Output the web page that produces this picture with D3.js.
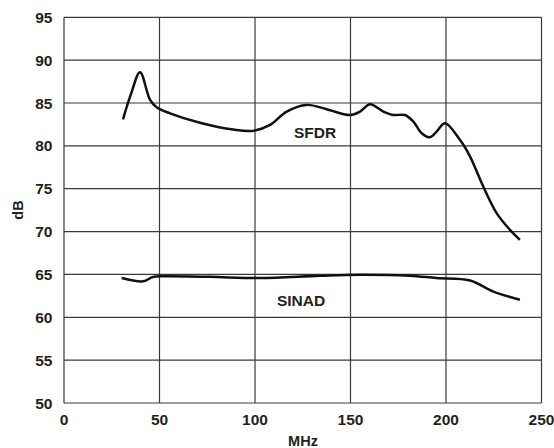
<!DOCTYPE html>
<html><head><meta charset="utf-8">
<script src="https://cdn.jsdelivr.net/npm/d3@7"></script>
<style>body{margin:0;background:#fff}svg{display:block}text{font-family:"Liberation Sans",Arial,Helvetica,sans-serif;font-weight:bold;fill:#231f20}</style>
</head><body><svg id="c" width="554" height="448"></svg>
<script>
const xTicks = [0, 50, 100, 150, 200, 250];
const yTicks = [50, 55, 60, 65, 70, 75, 80, 85, 90, 95];
const sfdrMHz = [30.9, 35, 39.8, 45, 48.5, 55.5, 71.2, 88.6, 99, 107.9, 116.6, 127, 137.5, 149.7, 155, 160.2, 167.2, 172.4, 178.5, 182.9, 187.3, 191.6, 195.1, 199.5, 207.3, 212.6, 219.5, 226.5, 233.5, 238.7];
const sfdrDB  = [83.1, 86.0, 88.6, 85.4, 84.5, 83.8, 82.7, 81.9, 81.75, 82.45, 84.0, 84.78, 84.28, 83.6, 84.0, 84.86, 84.0, 83.6, 83.6, 82.83, 81.48, 81.0, 81.67, 82.65, 80.7, 78.75, 75.26, 72.16, 70.2, 69.04];
const sinadMHz = [30.2, 41.5, 46.5, 52, 76.4, 102.6, 134, 155, 181, 195, 212.6, 224.8, 238.7];
const sinadDB  = [64.58, 64.2, 64.7, 64.78, 64.72, 64.58, 64.85, 64.97, 64.85, 64.58, 64.3, 63.0, 62.05];

const svg = d3.select("#c");
const x = d3.scaleLinear().domain([0, 250]).range([64, 541.5]);
const y = d3.scaleLinear().domain([50, 95]).range([403, 17.3]);
const grid = "#3a3a3a";

const g = svg.append("g");
g.selectAll(".vx").data(xTicks).enter().append("line")
  .attr("x1", d => x(d)).attr("x2", d => x(d)).attr("y1", y(50)).attr("y2", y(95))
  .attr("stroke", grid).attr("stroke-width", 1.2);
g.selectAll(".hy").data(yTicks).enter().append("line")
  .attr("x1", x(0)).attr("x2", x(250)).attr("y1", d => y(d)).attr("y2", d => y(d))
  .attr("stroke", grid).attr("stroke-width", 1.2);

svg.selectAll(".xl").data(xTicks).enter().append("text")
  .attr("x", d => x(d)).attr("y", 425).attr("text-anchor", "middle")
  .attr("font-size", 15.5).text(d => d);
svg.selectAll(".yl").data(yTicks).enter().append("text")
  .attr("x", 52.5).attr("y", d => y(d) + 5.5).attr("text-anchor", "end")
  .attr("font-size", 15.5).text(d => d);

svg.append("text").attr("x", 303).attr("y", 446).attr("text-anchor", "middle").attr("font-size", 14.5).text("MHz");
svg.append("text").attr("transform", "translate(22.5,210) rotate(-90)").attr("text-anchor", "middle").attr("font-size", 14.5).text("dB");

const line = d3.line().x(d => x(d[0])).y(d => y(d[1])).curve(d3.curveCatmullRom.alpha(0.5));
svg.append("path").datum(d3.zip(sfdrMHz, sfdrDB)).attr("d", line)
  .attr("fill", "none").attr("stroke", "#111").attr("stroke-width", 2.5).attr("stroke-linejoin", "round");
svg.append("path").datum(d3.zip(sinadMHz, sinadDB)).attr("d", line)
  .attr("fill", "none").attr("stroke", "#111").attr("stroke-width", 2.5).attr("stroke-linejoin", "round");

svg.append("text").attr("x", 315).attr("y", 138).attr("text-anchor", "middle").attr("font-size", 15.5).text("SFDR");
svg.append("text").attr("x", 301).attr("y", 306).attr("text-anchor", "middle").attr("font-size", 15.5).text("SINAD");
</script></body></html>
